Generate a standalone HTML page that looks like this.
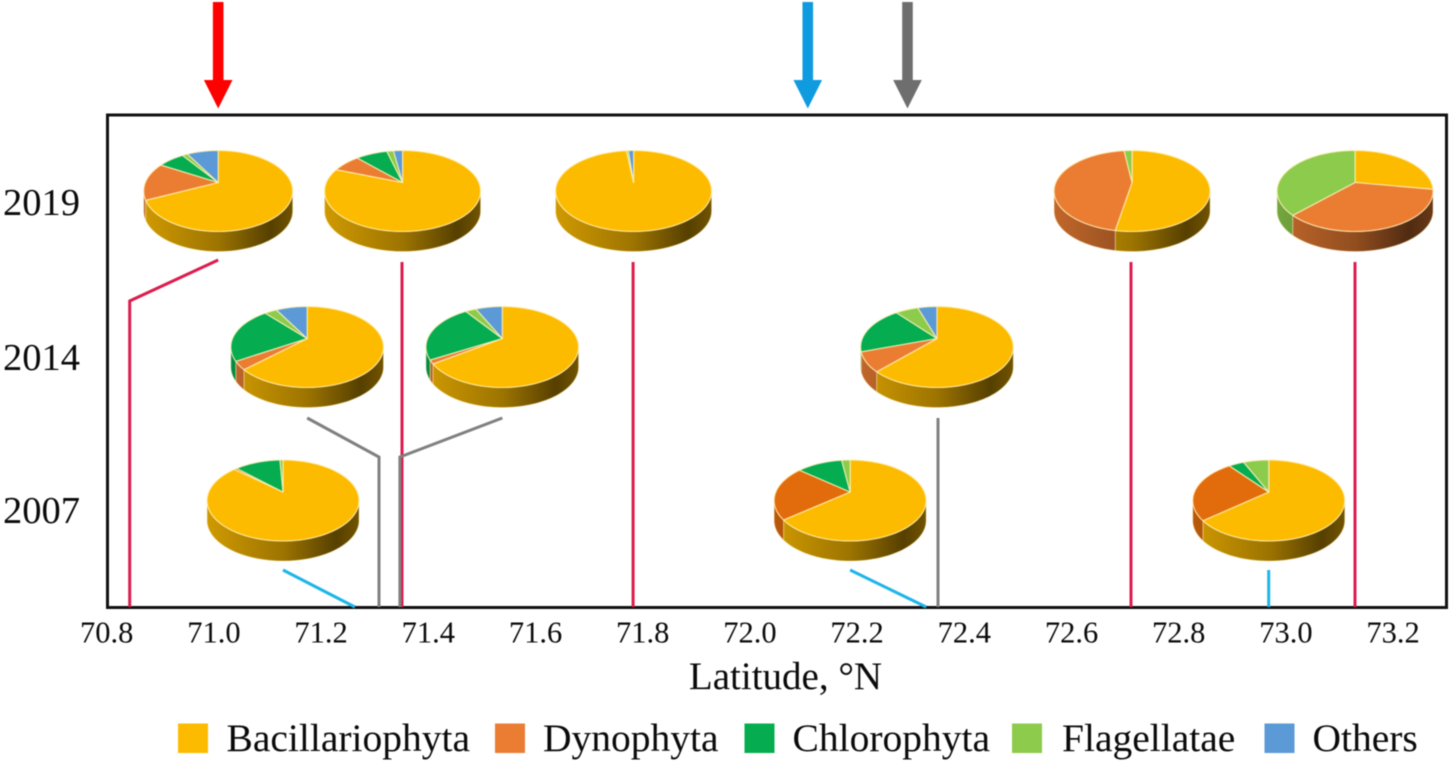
<!DOCTYPE html>
<html lang="en">
<head>
<meta charset="utf-8">
<title>Phytoplankton composition by latitude</title>
<style>
html,body{margin:0;padding:0;background:#fff;}
body{width:1450px;height:767px;overflow:hidden;}
svg{display:block;filter:blur(0.45px);}
text{font-family:"Liberation Serif",serif;fill:#0a0a0a;}
</style>
</head>
<body>
<svg id="chart" width="1450" height="767" viewBox="0 0 1450 767" xmlns="http://www.w3.org/2000/svg">
  <defs id="defs"></defs>
  <rect x="107.5" y="115" width="1339" height="492.5" fill="#fff" stroke="#111" stroke-width="3"/>
  <g id="leaders"></g>
  <g id="pies"></g>
  <g id="arrows"></g>
  <g id="xticks"></g>
  <g id="years"></g>
  <text x="785.5" y="689" font-size="39" text-anchor="middle">Latitude, °N</text>
  <g id="legend"></g>
</svg>
<script>
// ---- data ----
const categories = ['Bacillariophyta', 'Dynophyta', 'Chlorophyta', 'Flagellatae', 'Others'];
const xTickLabels = ['70.8', '71.0', '71.2', '71.4', '71.6', '71.8', '72.0', '72.2', '72.4', '72.6', '72.8', '73.0', '73.2'];
const yearRows = [2019, 2014, 2007];
const pieYears = [2019, 2019, 2019, 2019, 2019, 2014, 2014, 2014, 2007, 2007, 2007];
const pieLatitudes = [71.008, 71.352, 71.783, 72.713, 73.129, 71.174, 71.538, 72.349, 71.129, 72.187, 72.968];
const stationLatitudes = [70.843, 71.351, 71.782, 72.711, 73.129, 71.308, 71.347, 72.351, 71.263, 72.329, 72.968];
const bacillariophyta = [68.1, 80.8, 98.2, 52.8, 27.7, 62.9, 65.2, 62.0, 86.6, 64.2, 63.9];
const dynophyta = [15.2, 7.2, 0, 45.2, 34.5, 3.3, 1.5, 7.8, 0.7, 21.8, 25.5];
const chlorophyta = [7.0, 8.0, 0, 0, 0, 22.5, 23.6, 19.3, 11.9, 11.8, 4.0];
const flagellatae = [1.4, 1.7, 0.5, 2.0, 37.8, 3.2, 2.8, 5.9, 0.8, 2.2, 6.6];
const others = [8.3, 2.3, 1.3, 0, 0, 8.1, 6.9, 5.0, 0, 0, 0];
const arrowLatitudes = [71.008, 72.108, 72.294];

// ---- axis functions and styling ----
const series = [bacillariophyta, dynophyta, chlorophyta, flagellatae, others];
const NS = 'http://www.w3.org/2000/svg';
const colors = ['#FDBB00', '#EB7D33', '#05AC50', '#8CCB4B', '#5B9AD6'];
const dyno2007 = '#E26C0B';
const arrowColors = ['#FF0000', '#0E9BDF', '#6E6E6E'];
const yearStyle = {
  2019: { cy: 191, rx: 78, label: 215, top: 262, elbow: 262, color: '#DC1C4C' },
  2014: { cy: 347, rx: 76.3, label: 370, top: 418, elbow: 457, color: '#808080' },
  2007: { cy: 500.5, rx: 76, label: 523, top: 570, elbow: 607, color: '#1DB5E8' }
};
const RY = 40.5, APEX = 8.5, DEPTH = 20, AXIS_Y = 607;
const FRONT0 = 102, FRONT1 = 258;

function xScale(lat) { return 106.7 + (lat - 70.8) * 536; }

function make(tag, attrs, parent) {
  const el = document.createElementNS(NS, tag);
  for (const k in attrs) el.setAttribute(k, attrs[k]);
  parent.appendChild(el);
  return el;
}

function rim(cx, cy, rx, deg) {
  const t = deg * Math.PI / 180, u = Math.sin(t), v = -Math.cos(t);
  const c = APEX / RY, S = rx * Math.sqrt(1 - c * c), d = 1 - c * v;
  return [cx + S * u / d, cy + (RY * v - APEX) / d];
}

function arcPts(cx, cy, rx, a0, a1, dy) {
  const pts = [], n = Math.max(2, Math.ceil((a1 - a0) / 2));
  for (let i = 0; i <= n; i++) {
    const p = rim(cx, cy, rx, a0 + (a1 - a0) * i / n);
    pts.push(p[0].toFixed(2) + ',' + (p[1] + dy).toFixed(2));
  }
  return pts;
}

// ---- pies ----
const defs = document.getElementById('defs');
const pieRoot = document.getElementById('pies');
pieLatitudes.forEach(function (lat, i) {
  const year = pieYears[i], st = yearStyle[year];
  const cx = xScale(lat), cy = st.cy;
  const rx = i === 0 ? st.rx - 3.5 : st.rx;
  const g = make('g', {}, pieRoot);
  
  

  const grad = make('linearGradient', { id: 'shade' + i, gradientUnits: 'userSpaceOnUse', x1: cx - rx, x2: cx + rx, y1: 0, y2: 0 }, defs);
  [[0, .18], [.5, .38], [.85, .66], [1, .55]].forEach(function (s) {
    make('stop', { offset: s[0], 'stop-color': '#000', 'stop-opacity': s[1] }, grad);
  });

  const total = categories.reduce(function (sum, c, k) { return sum + series[k][i]; }, 0);
  let angle = 0;
  const wedges = [];
  categories.forEach(function (name, k) {
    const a0 = angle, a1 = angle + series[k][i] / total * 360;
    angle = a1;
    if (a1 > a0) {
      wedges.push({ name: name, a0: a0, a1: a1, color: (k === 1 && year === 2007) ? dyno2007 : colors[k] });
    }
  });

  wedges.forEach(function (w) {
    const s0 = Math.max(w.a0, FRONT0), s1 = Math.min(w.a1, FRONT1);
    if (s1 <= s0) return;
    const pts = arcPts(cx, cy, rx, s0, s1, 0).concat(arcPts(cx, cy, rx, s0, s1, DEPTH).reverse()).join(' ');
    const side = make('polygon', { points: pts, fill: w.color }, g);
    
    
    const shade = make('polygon', { points: pts, fill: 'url(#shade' + i + ')', stroke: 'rgba(255,240,190,.55)', 'stroke-width': .8 }, g);
    
    
  });

  wedges.forEach(function (w) {
    const apex = cx.toFixed(2) + ',' + (cy - APEX).toFixed(2);
    const pts = [apex].concat(arcPts(cx, cy, rx, w.a0, w.a1, 0)).join(' ');
    const slice = make('polygon', { points: pts, fill: w.color, stroke: 'rgba(255,240,185,.85)', 'stroke-width': 1.1, 'stroke-linejoin': 'round' }, g);
    
    
  });
});

// ---- leader lines ----
const leaderRoot = document.getElementById('leaders');
pieLatitudes.forEach(function (lat, i) {
  const st = yearStyle[pieYears[i]];
  const sx = xScale(stationLatitudes[i]);
  let startX = xScale(lat);
  let elbowY = st.elbow;
  if (i === 0) elbowY = 301;
  if (Math.abs(startX - sx) < 3) startX = sx;
  const top = i === 0 ? 260 : st.top;
  const line = make('polyline', {
    points: startX.toFixed(1) + ',' + top + ' ' + sx.toFixed(1) + ',' + elbowY + ' ' + sx.toFixed(1) + ',' + AXIS_Y,
    fill: 'none', stroke: st.color, 'stroke-width': 3
  }, leaderRoot);
  
  
});

// ---- arrows ----
const arrowRoot = document.getElementById('arrows');
arrowLatitudes.forEach(function (lat, i) {
  const x = xScale(lat);
  const d = 'M' + (x - 5.3) + ' 2H' + (x + 5.3) + 'V80H' + (x + 14.3) + 'L' + x + ' 108.5L' + (x - 14.3) + ' 80H' + (x - 5.3) + 'Z';
  const a = make('path', { d: d, fill: arrowColors[i] }, arrowRoot);
  
  
});

// ---- tick labels ----
const tickRoot = document.getElementById('xticks');
xTickLabels.forEach(function (label) {
  const t = make('text', { x: xScale(parseFloat(label)).toFixed(1), y: 642.7, 'font-size': 30.5, 'text-anchor': 'middle' }, tickRoot);
  t.textContent = label;
  
  
});

const yearRoot = document.getElementById('years');
yearRows.forEach(function (year) {
  const t = make('text', { x: 41.5, y: yearStyle[year].label, 'font-size': 38.5, 'text-anchor': 'middle' }, yearRoot);
  t.textContent = year;
  
  
});

// ---- legend ----
const legendRoot = document.getElementById('legend');
const legendSwatchX = [178, 495, 744.5, 1012, 1264.5];
const legendTextX = [226.5, 543, 792.5, 1062, 1312.5];
categories.forEach(function (name, k) {
  const g = make('g', {}, legendRoot);
  
  
  const s = make('rect', { x: legendSwatchX[k], y: 723.5, width: 30, height: 29.5, fill: colors[k] }, g);
  
  
  const t = make('text', { x: legendTextX[k], y: 751, 'font-size': 39.5 }, g);
  t.textContent = name;
  
  
});
</script>
</body>
</html>
